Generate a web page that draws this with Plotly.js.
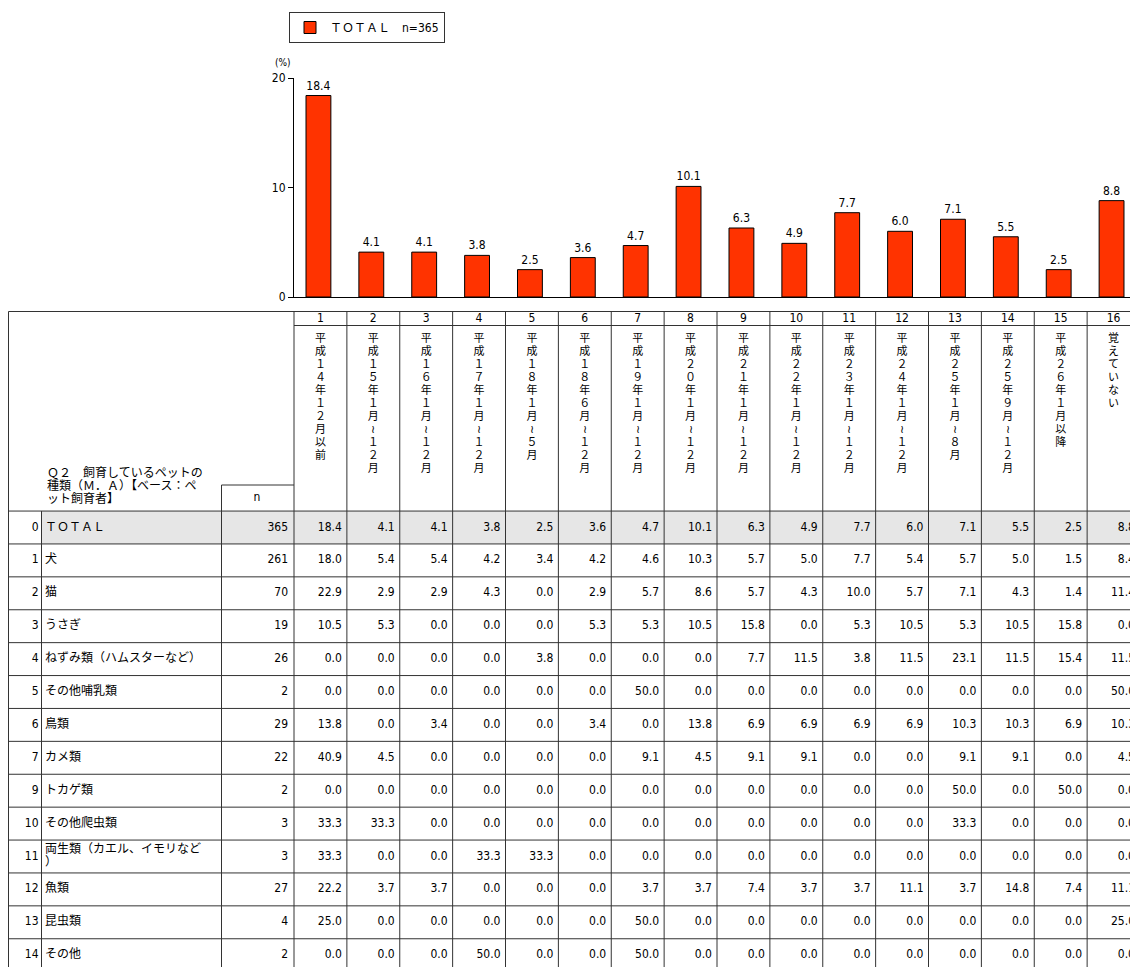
<!DOCTYPE html>
<html>
<head>
<meta charset="utf-8">
<script src="https://cdn.plot.ly/plotly-3.0.1.min.js"></script>
<style>
html,body{margin:0;padding:0;background:#ffffff;}
#chart{width:1130px;height:967px;}
</style>
</head>
<body>
<div id="chart"></div>
<script>
// ---------------- DATA ----------------
const columnNumbers = ['1','2','3','4','5','6','7','8','9','10','11','12','13','14','15','16'];
const periodLabels = [
  '平成１４年１２月以前',
  '平成１５年１月～１２月',
  '平成１６年１月～１２月',
  '平成１７年１月～１２月',
  '平成１８年１月～５月',
  '平成１８年６月～１２月',
  '平成１９年１月～１２月',
  '平成２０年１月～１２月',
  '平成２１年１月～１２月',
  '平成２２年１月～１２月',
  '平成２３年１月～１２月',
  '平成２４年１月～１２月',
  '平成２５年１月～８月',
  '平成２５年９月～１２月',
  '平成２６年１月以降',
  '覚えていない'
];
const questionText = 'Ｑ２　飼育しているペットの種類（Ｍ．Ａ）【ベース：ペット飼育者】';
const rowNumbers = [0,1,2,3,4,5,6,7,9,10,11,12,13,14];
const rowLabels = ['ＴＯＴＡＬ','犬','猫','うさぎ','ねずみ類（ハムスターなど）','その他哺乳類','鳥類','カメ類','トカゲ類','その他爬虫類','両生類（カエル、イモリなど）','魚類','昆虫類','その他'];
const rowN = [365,261,70,19,26,2,29,22,2,3,3,27,4,2];

const totalValues   = [18.4,4.1,4.1,3.8,2.5,3.6,4.7,10.1,6.3,4.9,7.7,6.0,7.1,5.5,2.5,8.8];
const dogValues     = [18.0,5.4,5.4,4.2,3.4,4.2,4.6,10.3,5.7,5.0,7.7,5.4,5.7,5.0,1.5,8.4];
const catValues     = [22.9,2.9,2.9,4.3,0.0,2.9,5.7,8.6,5.7,4.3,10.0,5.7,7.1,4.3,1.4,11.4];
const rabbitValues  = [10.5,5.3,0.0,0.0,0.0,5.3,5.3,10.5,15.8,0.0,5.3,10.5,5.3,10.5,15.8,0.0];
const rodentValues  = [0.0,0.0,0.0,0.0,3.8,0.0,0.0,0.0,7.7,11.5,3.8,11.5,23.1,11.5,15.4,11.5];
const mammalValues  = [0.0,0.0,0.0,0.0,0.0,0.0,50.0,0.0,0.0,0.0,0.0,0.0,0.0,0.0,0.0,50.0];
const birdValues    = [13.8,0.0,3.4,0.0,0.0,3.4,0.0,13.8,6.9,6.9,6.9,6.9,10.3,10.3,6.9,10.3];
const turtleValues  = [40.9,4.5,0.0,0.0,0.0,0.0,9.1,4.5,9.1,9.1,0.0,0.0,9.1,9.1,0.0,4.5];
const lizardValues  = [0.0,0.0,0.0,0.0,0.0,0.0,0.0,0.0,0.0,0.0,0.0,0.0,50.0,0.0,50.0,0.0];
const reptileValues = [33.3,33.3,0.0,0.0,0.0,0.0,0.0,0.0,0.0,0.0,0.0,0.0,33.3,0.0,0.0,0.0];
const amphibValues  = [33.3,0.0,0.0,33.3,33.3,0.0,0.0,0.0,0.0,0.0,0.0,0.0,0.0,0.0,0.0,0.0];
const fishValues    = [22.2,3.7,3.7,0.0,0.0,0.0,3.7,3.7,7.4,3.7,3.7,11.1,3.7,14.8,7.4,11.1];
const insectValues  = [25.0,0.0,0.0,0.0,0.0,0.0,50.0,0.0,0.0,0.0,0.0,0.0,0.0,0.0,0.0,25.0];
const otherValues   = [0.0,0.0,0.0,50.0,0.0,0.0,50.0,0.0,0.0,0.0,0.0,0.0,0.0,0.0,0.0,0.0];

const tableRows = [totalValues,dogValues,catValues,rabbitValues,rodentValues,mammalValues,birdValues,
                   turtleValues,lizardValues,reptileValues,amphibValues,fishValues,insectValues,otherValues];

// ---------------- LAYOUT HELPERS ----------------
const W = 1130, H = 967;
const COL_W = 52.875, DATA_LEFT = 294;
const ROW_H = 32.9, ROW0_CENTER = 527.5;
const px2x = p => (p - DATA_LEFT) / COL_W - 0.5;
const px2y = p => (p - ROW0_CENTER) / ROW_H;
const NUM_FONT = '"Liberation Sans Narrow", "DejaVu Sans Condensed", "Arial Narrow", sans-serif';
const JP_FONT = '"Noto Sans CJK JP", sans-serif';
const WRAP = 13;
const chunk = s => { const a = Array.from(s), out = []; for (let i = 0; i < a.length; i += WRAP) out.push(a.slice(i, i + WRAP).join('')); return out; };

const traces = [];

// Bar chart
traces.push({
  type: 'bar', x: columnNumbers, y: totalValues, xaxis: 'x', yaxis: 'y',
  name: 'ＴＯＴＡＬ　<span style="font-family:' + "'Liberation Sans Narrow','DejaVu Sans Condensed',sans-serif" + '">n=' + rowN[0] + '</span>',
  width: 0.47,
  marker: {color: '#FF3300', line: {color: '#000000', width: 1}},
  text: totalValues.map(v => v.toFixed(1)), textposition: 'outside', cliponaxis: false,
  constraintext: 'none',
  textfont: {family: NUM_FONT, size: 12, color: '#000000'},
  hoverinfo: 'skip', showlegend: true
});

// Table cell values
const cx = [], cy = [], ct = [];
tableRows.forEach((vals, r) => vals.forEach((v, j) => {
  cx.push(j + 0.5 - 5 / COL_W); cy.push(r); ct.push(v.toFixed(1));
}));
traces.push({type: 'scatter', mode: 'text', x: cx, y: cy, text: ct, textposition: 'middle left',
  textfont: {family: NUM_FONT, size: 12, color: '#000'}, xaxis: 'x2', yaxis: 'y2', hoverinfo: 'skip', showlegend: false});

// n column
traces.push({type: 'scatter', mode: 'text', x: rowN.map(() => px2x(288)), y: rowN.map((_, r) => r),
  text: rowN.map(String), textposition: 'middle left',
  textfont: {family: NUM_FONT, size: 12, color: '#000'}, xaxis: 'x2', yaxis: 'y2', hoverinfo: 'skip', showlegend: false});

// row numbers
traces.push({type: 'scatter', mode: 'text', x: rowNumbers.map(() => px2x(38.5)), y: rowNumbers.map((_, r) => r),
  text: rowNumbers.map(String), textposition: 'middle left',
  textfont: {family: NUM_FONT, size: 12, color: '#000'}, xaxis: 'x2', yaxis: 'y2', hoverinfo: 'skip', showlegend: false});

// row labels (wrapped)
const lx = [], ly = [], lt = [];
rowLabels.forEach((s, r) => {
  const parts = chunk(s);
  parts.forEach((p, k) => { lx.push(px2x(45)); ly.push(r + (k - (parts.length - 1) / 2) * 13 / ROW_H); lt.push(p); });
});
traces.push({type: 'scatter', mode: 'text', x: lx, y: ly, text: lt, textposition: 'middle right',
  textfont: {family: JP_FONT, size: 12, color: '#000'}, xaxis: 'x2', yaxis: 'y2', hoverinfo: 'skip', showlegend: false});

// header column numbers
traces.push({type: 'scatter', mode: 'text', x: columnNumbers.map((_, j) => j), y: columnNumbers.map(() => px2y(318.5)),
  text: columnNumbers, textposition: 'middle center',
  textfont: {family: NUM_FONT, size: 12, color: '#000'}, xaxis: 'x2', yaxis: 'y2', hoverinfo: 'skip', showlegend: false});

// vertical period headers (one glyph per line)
const hx = [], hy = [], ht = [];
periodLabels.forEach((s, j) => {
  Array.from(s).forEach((ch, i) => {
    hx.push(j); hy.push(px2y(339 + 13 * i)); ht.push(ch === '～' ? '≀' : ch);
  });
});
traces.push({type: 'scatter', mode: 'text', x: hx, y: hy, text: ht, textposition: 'middle center',
  textfont: {family: JP_FONT, size: 11, color: '#000'}, xaxis: 'x2', yaxis: 'y2', hoverinfo: 'skip', showlegend: false});

// question header
const qParts = chunk(questionText);
traces.push({type: 'scatter', mode: 'text', x: qParts.map(() => px2x(47)), y: qParts.map((_, k) => px2y(474 + 13 * k)),
  text: qParts, textposition: 'middle right',
  textfont: {family: JP_FONT, size: 12, color: '#000'}, xaxis: 'x2', yaxis: 'y2', hoverinfo: 'skip', showlegend: false});

// "n" header
traces.push({type: 'scatter', mode: 'text', x: [px2x(257)], y: [px2y(497.5)], text: ['n'], textposition: 'middle center',
  textfont: {family: NUM_FONT, size: 12, color: '#000'}, xaxis: 'x2', yaxis: 'y2', hoverinfo: 'skip', showlegend: false});

// ---------------- TABLE GRID ----------------
const LINE = {color: '#333333', width: 1};
const xLeft = px2x(8.5), xRowNum = px2x(41.5), xLabel = px2x(221.5), xN = -0.5, xRight = px2x(1140);
const yTop = px2y(311.5), yNumRow = px2y(325.5), yNBox = px2y(485), yData = -0.5, yBottom = rowNumbers.length - 0.5;
const shapes = [];
const seg = (x0, y0, x1, y1) => shapes.push({type: 'line', xref: 'x2', yref: 'y2', x0, y0, x1, y1, line: LINE, layer: 'above'});

shapes.push({type: 'rect', xref: 'x2', yref: 'y2', x0: xRowNum, x1: xRight, y0: -0.5, y1: 0.5,
  fillcolor: '#E6E6E6', line: {width: 0}, layer: 'below'});

seg(xLeft, yTop, xRight, yTop);
seg(xN, yNumRow, xRight, yNumRow);
seg(xLabel, yNBox, xN, yNBox);
for (let r = 0; r <= rowNumbers.length; r++) seg(xLeft, r - 0.5, xRight, r - 0.5);
seg(xLeft, yTop, xLeft, yBottom);
seg(xRowNum, yData, xRowNum, yBottom);
seg(xLabel, yNBox, xLabel, yBottom);
for (let j = 0; j <= columnNumbers.length; j++) seg(j - 0.5, yTop, j - 0.5, yBottom);

// ---------------- LAYOUT ----------------
const barX0 = -0.5 + 2 / COL_W;
const layout = {
  width: W, height: H,
  margin: {l: 0, r: 0, t: 0, b: 0, pad: 0},
  paper_bgcolor: '#ffffff', plot_bgcolor: 'rgba(0,0,0,0)',
  showlegend: true,
  font: {family: JP_FONT, size: 12, color: '#000'},
  bargap: 0.5,
  xaxis: {domain: [DATA_LEFT / W, 1], range: [barX0, barX0 + (W - DATA_LEFT) / COL_W], type: 'category',
    showline: true, linecolor: '#000', linewidth: 1, ticks: '', showticklabels: false,
    showgrid: false, zeroline: false, fixedrange: true, anchor: 'y'},
  yaxis: {domain: [1 - 297 / H, 1 - 78 / H], range: [0, 20], tickvals: [0, 10, 20],
    ticks: 'outside', ticklen: 5, tickcolor: '#000', tickwidth: 1,
    showline: true, linecolor: '#000', linewidth: 1, showgrid: false, zeroline: false,
    tickfont: {family: NUM_FONT, size: 12, color: '#000'}, fixedrange: true, anchor: 'x'},
  xaxis2: {domain: [0, 1], range: [px2x(0), px2x(W)], visible: false, fixedrange: true, anchor: 'y2'},
  yaxis2: {domain: [0, 1], range: [px2y(H), px2y(0)], visible: false, fixedrange: true, anchor: 'x2'},
  legend: {x: 289 / W, xanchor: 'left', y: 1 - 12 / H, yanchor: 'top', bgcolor: '#ffffff',
    bordercolor: '#333333', borderwidth: 1, font: {family: JP_FONT, size: 12, color: '#000'},
    itemwidth: 30, tracegroupgap: 0},
  annotations: [{xref: 'paper', yref: 'paper', x: 283 / W, y: 1 - 63 / H, text: '(%)', showarrow: false,
    xanchor: 'center', yanchor: 'middle', font: {family: NUM_FONT, size: 10, color: '#000'}}],
  shapes: shapes
};

Plotly.newPlot('chart', traces, layout, {displayModeBar: false, staticPlot: true});
</script>
</body>
</html>
